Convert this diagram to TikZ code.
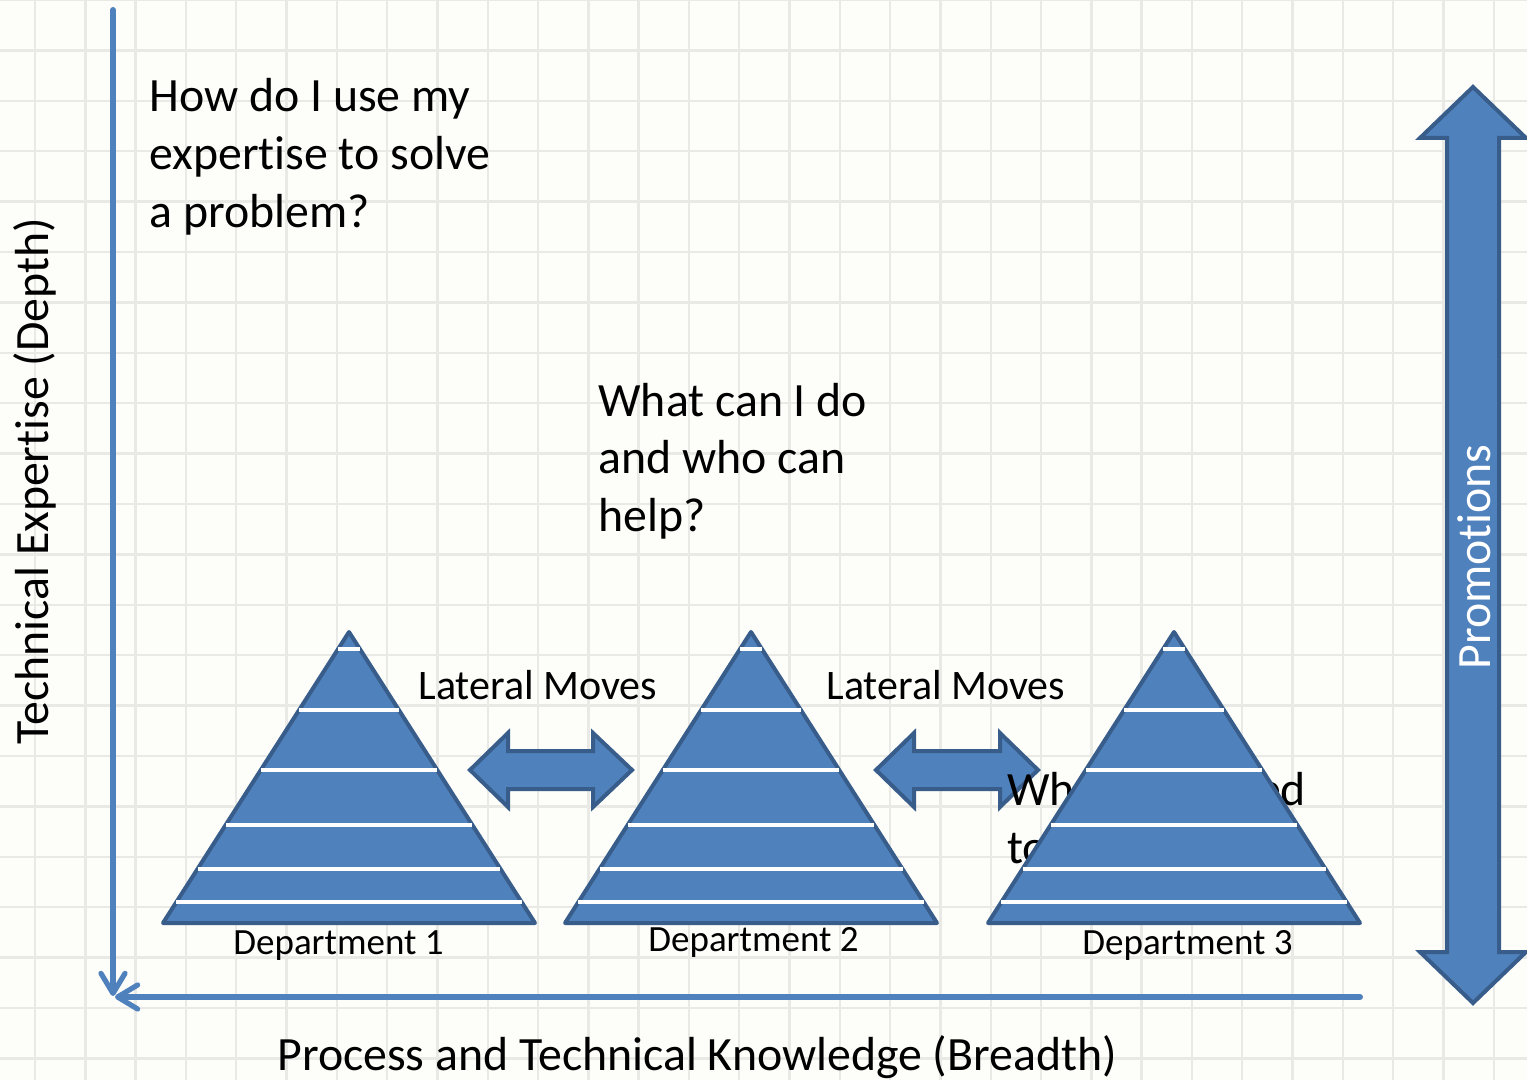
\documentclass[tikz,border=0pt]{standalone}
\usepackage{fontspec}
\setmainfont[Ligatures={NoCommon}]{Carlito}
\usetikzlibrary{arrows.meta}

\definecolor{paper}{HTML}{FDFDFA}
\definecolor{gridc}{HTML}{E9E9E5}
\definecolor{accent}{HTML}{4F81BD}
\definecolor{accentdark}{HTML}{385D8A}

\tikzset{
  gridline/.style={draw=gridc, line width=1.2pt},
  axisline/.style={draw=accent, line width=3pt, line cap=round,
    -{Straight Barb[length=10pt,width=12pt,line width=2.6pt,round]}},
  blockarrow/.style={fill=accent, draw=accentdark, line width=2pt, line join=miter},
  pyr/.style={fill=accent, draw=accentdark, line width=2pt, line join=round},
  stripe/.style={draw=white, line width=2pt},
  bigtext/.style={font=\fontsize{23.9}{29}\selectfont, inner sep=0pt, align=left},
  movetext/.style={font=\fontsize{21}{25}\selectfont, inner sep=0pt},
  depttext/.style={font=\fontsize{18.5}{22}\selectfont, inner sep=0pt},
}

% one department pyramid: apex at (#1,632), base at y=923
\newcommand\deptpyramid[1]{%
  \begin{scope}[shift={(#1,632)}]
    \filldraw[pyr] (0,0) -- (186,291) -- (-186,291) -- cycle;
    \foreach \h in {17,78,138,193,237,270}
      \draw[stripe] ({-0.6392*\h},\h) -- ({0.6392*\h},\h);
  \end{scope}}

\begin{document}
\begin{tikzpicture}[x=0.5pt,y=-0.5pt]
  % paper and grid
  \fill[paper] (0,0) rectangle (1527,1080);
  \useasboundingbox (0,0) rectangle (1527,1080);
  \foreach \i in {0,...,31}
    \draw[gridline] ({-15.3+50.3*\i},0) -- ({-15.3+50.3*\i},1080);
  \foreach \j in {0,...,22}
    \draw[gridline] (0,{50.4*\j}) -- (1527,{50.4*\j});

  % axes meeting at the origin corner
  \coordinate (ytop) at (113,10);
  \coordinate (yend) at (113,996);
  \coordinate (xright) at (1360,997);
  \coordinate (xend) at (115,997);
  \draw[axisline] (ytop) -- (yend);
  \draw[axisline] (xright) -- (xend);

  % axis titles
  \node[bigtext, rotate=90, anchor=base west] (ylabel) at (48,745) {Technical Expertise (Depth)};
  \node[bigtext, anchor=base west] (xlabel) at (277,1070) {Process and Technical Knowledge (Breadth)};

  % questions (anchored at the baseline of their last line)
  \node[bigtext, anchor=base west] (q1) at (149,228) {How do I use my\\expertise to solve\\a problem?};
  \node[bigtext, anchor=base west] (q2) at (598,532) {What can I do\\and who can\\help?};

  % lateral move arrows
  \filldraw[blockarrow] (470,770) -- (508,733) -- (508,751) -- (593,751) -- (593,733)
    -- (632,770) -- (593,807) -- (593,789) -- (508,789) -- (508,807) -- cycle;
  \filldraw[blockarrow] (876,770) -- (914,733) -- (914,751) -- (1000,751) -- (1000,733)
    -- (1038,770) -- (1000,807) -- (1000,789) -- (914,789) -- (914,807) -- cycle;

  \node[bigtext, anchor=base west] (q3) at (1007,863) {What do I need\\to know?};

  % departments
  \deptpyramid{349}
  \deptpyramid{751}
  \deptpyramid{1174}
  \node[depttext, anchor=base west] (d1) at (233,954) {Department 1};
  \node[depttext, anchor=base west] (d2) at (648,951) {Department 2};
  \node[depttext, anchor=base west] (d3) at (1082,954) {Department 3};

  \node[movetext, anchor=base west] (m1) at (418,699) {Lateral Moves};
  \node[movetext, anchor=base west] (m2) at (826,699) {Lateral Moves};

  % promotions arrow
  \filldraw[blockarrow] (1473,87) -- (1526,138) -- (1499,138) -- (1499,952) -- (1526,952)
    -- (1473,1003) -- (1420,952) -- (1447,952) -- (1447,138) -- (1420,138) -- cycle;
  \node[bigtext, text=white, rotate=90, anchor=base] (promo) at (1490,557) {Promotions};
\end{tikzpicture}
\end{document}
